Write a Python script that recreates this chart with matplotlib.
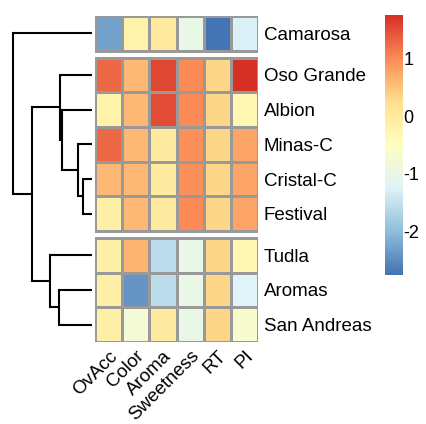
import numpy as np
import matplotlib.pyplot as plt
from matplotlib.colors import LinearSegmentedColormap

plt.rcParams['font.family'] = ['Liberation Sans', 'DejaVu Sans']

cultivars = ["Camarosa", "Oso Grande", "Albion", "Minas-C", "Cristal-C",
             "Festival", "Tudla", "Aromas", "San Andreas"]
traits = ["OvAcc", "Color", "Aroma", "Sweetness", "RT", "PI"]

# scaled scores, rows in dendrogram order
scores = np.array([
    [-2.30, -0.20,  0.00, -1.00, -2.75, -1.30],
    [ 1.30,  0.60,  1.55,  1.00,  0.35,  1.75],
    [-0.20,  0.60,  1.50,  1.00,  0.35, -0.30],
    [ 1.30,  0.60, -0.05,  0.95,  0.35,  0.80],
    [ 0.60,  0.60, -0.05,  0.95,  0.35,  0.80],
    [-0.10,  0.60, -0.05,  1.00,  0.35,  0.80],
    [-0.10,  0.65, -1.55, -1.00,  0.35, -0.30],
    [-0.10, -2.40, -1.55, -1.00,  0.35, -1.25],
    [-0.10, -0.80, -0.05, -1.00,  0.35, -0.70],
])
row_gaps = [1, 6]

# hclust style merges: (child a, child b, height); leaves 0..8, clusters 9..
merges = [
    (4, 5, 9), (3, 9, 14), (2, 10, 30), (1, 11, 32),
    (7, 8, 33), (6, 13, 42), (12, 14, 60), (0, 15, 79),
]

# pheatmap default palette
pal = ["#4575B4", "#91BFDB", "#E0F3F8", "#FFFFBF", "#FEE090", "#FC8D59", "#D73027"]
cmap = LinearSegmentedColormap.from_list("rdylbu", pal, N=100)
vmin, vmax = scores.min(), scores.max()

W, H = 426, 424
fig = plt.figure(figsize=(W / 100, H / 100), dpi=100)

def px_axes(x0, y0, x1, y1):
    return fig.add_axes([x0 / W, 1 - y1 / H, (x1 - x0) / W, (y1 - y0) / H])

gap = 0.2
n = len(cultivars)
offs = np.array([gap * sum(1 for g in row_gaps if j >= g) for j in range(n)])
total = n + gap * len(row_gaps)
centers = np.arange(n) + offs + 0.5

# heatmap
ax = px_axes(95, 16, 258, 342)
bounds = [0] + row_gaps + [n]
for a, b in zip(bounds[:-1], bounds[1:]):
    yedges = np.arange(a, b + 1) + offs[a]
    ax.pcolormesh(np.arange(len(traits) + 1), yedges, scores[a:b], cmap=cmap,
                  vmin=vmin, vmax=vmax, edgecolors="#999999", linewidth=1.0)
ax.set_xlim(0, len(traits))
ax.set_ylim(total, 0)
for s in ax.spines.values():
    s.set_visible(False)
ax.yaxis.tick_right()
ax.set_yticks(centers)
ax.set_yticklabels(cultivars, fontsize=13.5)
ax.set_xticks(np.arange(len(traits)) + 0.5)
ax.set_xticklabels(traits, fontsize=13.5, rotation=45, ha="right",
                   rotation_mode="anchor")
ax.tick_params(length=0, pad=4)

# row dendrogram
dax = px_axes(0, 16, 92, 342)
ypos = {i: centers[i] for i in range(n)}
hgt = {i: 0 for i in range(n)}
for k, (a, b, h) in enumerate(merges):
    for c in (a, b):
        dax.plot([hgt[c], h], [ypos[c], ypos[c]], color="black", lw=1.5,
                 solid_capstyle="butt")
    dax.plot([h, h], [ypos[a], ypos[b]], color="black", lw=1.5,
             solid_capstyle="projecting")
    ypos[n + k] = (ypos[a] + ypos[b]) / 2
    hgt[n + k] = h
dax.set_xlim(92, 0)
dax.set_ylim(total, 0)
dax.axis("off")

# colour legend
cax = px_axes(385, 15, 402, 275)
grad = np.linspace(vmin, vmax, 100).reshape(-1, 1)
cax.imshow(grad, cmap=cmap, vmin=vmin, vmax=vmax, aspect="auto",
           origin="lower", extent=[0, 1, vmin, vmax])
cax.set_xticks([])
cax.yaxis.tick_right()
cax.set_yticks([-2, -1, 0, 1])
cax.set_yticklabels(["-2", "-1", "0", "1"], fontsize=13)
cax.tick_params(length=0, pad=1)
for s in cax.spines.values():
    s.set_visible(False)

fig.savefig("out.png", dpi=100)
